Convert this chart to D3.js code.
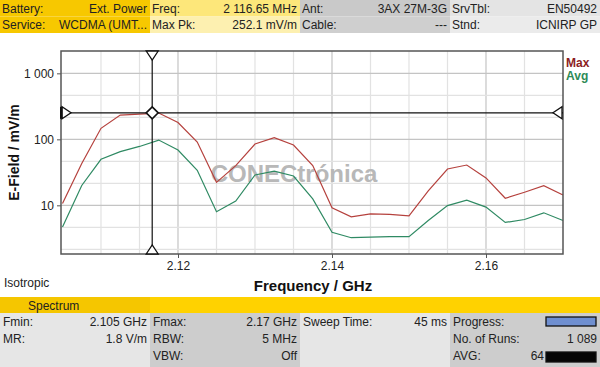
<!DOCTYPE html>
<html>
<head>
<meta charset="utf-8">
<script src="https://cdn.jsdelivr.net/npm/d3@7"></script>
<style>
  body { margin: 0; background: #fff; }
  svg { font-family: 'Liberation Sans', Arial, sans-serif; display: block; }
</style>
</head>
<body>
<div class="container"></div>
<script>
// sweep points every 2.5 MHz, 2.105 .. 2.17 GHz
const freqs = d3.range(27).map(i => +(2.105 + i * 0.0025).toFixed(4));
const maxVals = [10.7, 43, 147, 233, 241, 250, 180, 91, 22.3, 40, 85, 106, 82, 40, 9.2, 6.7, 7.4, 7.3, 6.95, 16.5, 35.5, 40.8, 26, 12.8, 15.8, 19.8, 14.3];
const avgVals = [4.7, 20, 49.8, 65, 78, 97.5, 69, 34, 8.0, 11.6, 28.8, 33, 27.8, 12.5, 3.9, 3.23, 3.3, 3.35, 3.35, 5.9, 9.9, 12, 9.4, 5.5, 6.1, 7.7, 5.9];
const xTicks = [2.12, 2.14, 2.16];
const yTicks = [10, 100, 1000];
const cursorFreq = 2.11665;
const cursorVal = 252.1;

const headerRows = [
  [['Battery:', 'Ext. Power'], ['Freq:', '2 116.65 MHz'], ['Ant:', '3AX 27M-3G'], ['SrvTbl:', 'EN50492']],
  [['Service:', 'WCDMA (UMT...'], ['Max Pk:', '252.1 mV/m'], ['Cable:', '---'], ['Stnd:', 'ICNIRP GP']]
];
const footerRows = [
  [['Fmin:', '2.105 GHz'], ['Fmax:', '2.17 GHz'], ['Sweep Time:', '45 ms'], ['Progress:', '']],
  [['MR:', '1.8 V/m'], ['RBW:', '5 MHz'], ['', ''], ['No. of Runs:', '1 089']],
  [['', ''], ['VBW:', 'Off'], ['', ''], ['AVG:', '64']]
];

const width = 600, height = 367;
const plot = { left: 61, right: 563, top: 51, bottom: 254 };

const svg = d3.select('.container').append('svg')
  .attr('width', width).attr('height', height);

// header
const headColors = [['#f7c800', '#fde77a', '#c9c9c9', '#e4e4e4'], ['#f7c800', '#fdf0b0', '#cfcfcf', '#ebebeb']];
headerRows.forEach((row, r) => {
  row.forEach((cell, c) => {
    const x0 = c * 150, y0 = r * 16.5;
    svg.append('rect').attr('x', x0).attr('y', y0).attr('width', 150).attr('height', 16.5)
      .attr('fill', headColors[r][c]);
    svg.append('text').attr('x', x0 + 2).attr('y', y0 + 12.5).attr('font-size', 12).attr('fill', '#222').text(cell[0]);
    svg.append('text').attr('x', x0 + 147).attr('y', y0 + 12.5).attr('font-size', 12).attr('fill', '#222')
      .attr('text-anchor', 'end').text(cell[1]);
  });
});

// scales
const x = d3.scaleLinear().domain([2.105, 2.17]).range([plot.left + 1.5, plot.right]);
const y = d3.scaleLog().domain([1.83, 2180]).range([plot.bottom, plot.top]);

const g = svg.append('g');

// grid
const minorX = d3.range(1, 13).map(i => 2.105 + i * 0.005);
g.selectAll('.vgrid').data(minorX).enter().append('line')
  .attr('x1', d => x(d)).attr('x2', d => x(d))
  .attr('y1', plot.top).attr('y2', plot.bottom)
  .attr('stroke', d => xTicks.some(t => Math.abs(t - d) < 1e-6) ? '#c4c4c4' : '#e2e2e2')
  .attr('stroke-width', 1.2);

const minorY = d3.range(1, 10).map(i => Math.pow(10, i / 3)).filter(v => v > 1.83 && v < 2180);
g.selectAll('.hgrid').data(minorY).enter().append('line')
  .attr('x1', plot.left).attr('x2', plot.right)
  .attr('y1', d => y(d)).attr('y2', d => y(d))
  .attr('stroke', d => yTicks.some(t => Math.abs(t - d) / t < 1e-6) ? '#c4c4c4' : '#e2e2e2')
  .attr('stroke-width', 1.2);

// watermark
g.append('text').attr('x', 294).attr('y', 182).attr('text-anchor', 'middle')
  .attr('font-size', 24).attr('font-weight', 'bold').attr('fill', '#b8b8b8')
  .text('CONECtrónica');

// axes
g.append('g').attr('transform', `translate(${plot.left},0)`)
  .call(d3.axisLeft(y).tickValues(yTicks).tickSize(4).tickFormat(d => d === 1000 ? '1 000' : d))
  .call(a => a.select('.domain').remove())
  .call(a => a.selectAll('text').attr('font-size', 12).attr('fill', '#222').attr('font-family', 'Liberation Sans, Arial, sans-serif'))
  .call(a => a.selectAll('line').attr('stroke', '#555'));

g.append('g').attr('transform', `translate(0,${plot.bottom})`)
  .call(d3.axisBottom(x).tickValues(xTicks).tickSize(4).tickFormat(d3.format('.2f')))
  .call(a => a.select('.domain').remove())
  .call(a => a.selectAll('text').attr('font-size', 12).attr('fill', '#222').attr('font-family', 'Liberation Sans, Arial, sans-serif'))
  .call(a => a.selectAll('line').attr('stroke', '#555'));

// lines
const line = vals => d3.line().x((d, i) => x(freqs[i])).y(d => y(d))(vals);
g.append('path').attr('d', line(maxVals)).attr('fill', 'none').attr('stroke', '#b5413d').attr('stroke-width', 1.2);
g.append('path').attr('d', line(avgVals)).attr('fill', 'none').attr('stroke', '#2f8a63').attr('stroke-width', 1.2);

// frame
g.append('rect').attr('x', plot.left).attr('y', plot.top)
  .attr('width', plot.right - plot.left).attr('height', plot.bottom - plot.top)
  .attr('fill', 'none').attr('stroke', '#555').attr('stroke-width', 1.5);

// cursor
const cx = x(cursorFreq), cy = y(cursorVal);
g.append('line').attr('x1', cx).attr('x2', cx).attr('y1', plot.top).attr('y2', plot.bottom)
  .attr('stroke', '#111').attr('stroke-width', 1.2);
g.append('line').attr('x1', plot.left).attr('x2', plot.right).attr('y1', cy).attr('y2', cy)
  .attr('stroke', '#111').attr('stroke-width', 1.2);
const tri = (pts) => g.append('path').attr('d', 'M' + pts.map(p => p.join(',')).join('L') + 'Z')
  .attr('fill', '#fff').attr('stroke', '#111').attr('stroke-width', 1.3);
tri([[cx - 6, plot.top], [cx + 6, plot.top], [cx, plot.top + 9]]);
tri([[cx - 6, plot.bottom], [cx + 6, plot.bottom], [cx, plot.bottom - 9]]);
tri([[plot.left + 1, cy - 6], [plot.left + 1, cy + 6], [plot.left + 10, cy]]);
tri([[plot.right - 1, cy - 6], [plot.right - 1, cy + 6], [plot.right - 10, cy]]);
g.append('rect').attr('x', plot.left - 1).attr('y', cy - 6).attr('width', 2.5).attr('height', 12).attr('fill', '#111');
g.append('path').attr('d', `M${cx},${cy - 6}L${cx + 6},${cy}L${cx},${cy + 6}L${cx - 6},${cy}Z`)
  .attr('fill', '#fff').attr('stroke', '#111').attr('stroke-width', 1.6);

// legend
svg.append('text').attr('x', 566).attr('y', 67).attr('font-size', 12).attr('font-weight', 'bold')
  .attr('fill', '#8b1e1e').text('Max');
svg.append('text').attr('x', 566).attr('y', 80).attr('font-size', 12).attr('font-weight', 'bold')
  .attr('fill', '#2e8b57').text('Avg');

// axis titles
svg.append('text').attr('transform', `translate(19,${(plot.top + plot.bottom) / 2}) rotate(-90)`)
  .attr('text-anchor', 'middle').attr('font-size', 14).attr('font-weight', 'bold').attr('fill', '#111')
  .text('E-Field / mV/m');
svg.append('text').attr('x', 313).attr('y', 291).attr('text-anchor', 'middle')
  .attr('font-size', 15).attr('font-weight', 'bold').attr('fill', '#111').text('Frequency / GHz');
svg.append('text').attr('x', 4).attr('y', 287).attr('font-size', 12).attr('fill', '#222').text('Isotropic');

// footer
svg.append('rect').attr('x', 0).attr('y', 297).attr('width', 600).attr('height', 16).attr('fill', '#ffd200');
svg.append('rect').attr('x', 0).attr('y', 297).attr('width', 150).attr('height', 16).attr('fill', '#f5c600');
svg.append('text').attr('x', 28).attr('y', 309.5).attr('font-size', 12).attr('fill', '#222').text('Spectrum');
const footColors = ['#e6e6e6', '#cdcdcd', '#e6e6e6', '#cdcdcd'];
footColors.forEach((c, i) => svg.append('rect').attr('x', i * 150).attr('y', 313).attr('width', 150).attr('height', 54).attr('fill', c));
footerRows.forEach((row, r) => {
  row.forEach((cell, c) => {
    const x0 = c * 150, y0 = 313 + r * 17;
    svg.append('text').attr('x', x0 + 3).attr('y', y0 + 13).attr('font-size', 12).attr('fill', '#222').text(cell[0]);
    const rx = (c === 3 && r === 2) ? x0 + 94 : x0 + 147;
    svg.append('text').attr('x', rx).attr('y', y0 + 13).attr('font-size', 12).attr('fill', '#222')
      .attr('text-anchor', 'end').text(cell[1]);
  });
});
svg.append('rect').attr('x', 546).attr('y', 317).attr('width', 50).attr('height', 9)
  .attr('fill', '#6f8fd0').attr('stroke', '#111').attr('stroke-width', 1.3);
svg.append('rect').attr('x', 546).attr('y', 352).attr('width', 50).attr('height', 10)
  .attr('fill', '#050505').attr('stroke', '#111').attr('stroke-width', 1.3);
</script>
</body>
</html>
